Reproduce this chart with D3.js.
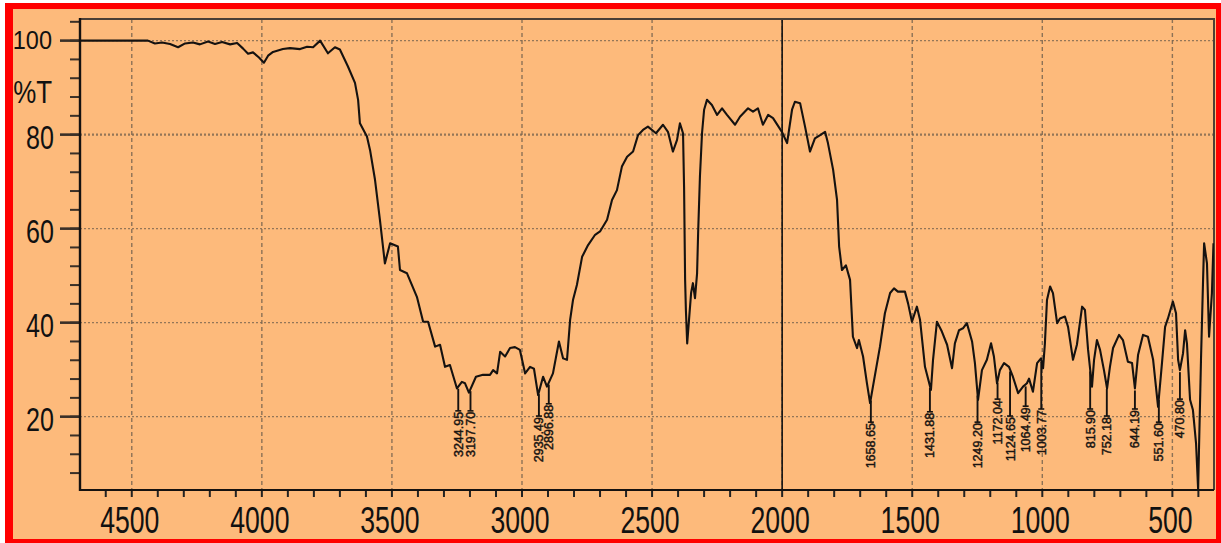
<!DOCTYPE html>
<html><head><meta charset="utf-8">
<script src="https://cdn.jsdelivr.net/npm/d3@7"></script>
<style>html,body{margin:0;padding:0;background:#fff;}svg{display:block;}</style>
</head><body>
<svg id="c" width="1221" height="543"></svg>
<script>
// ---- data ----
const spectrum = [
 [4699,100],[4438,100],[4411,99.4],[4384,99.6],[4353,99.3],[4322,98.6],[4295,99.4],[4265,99.6],[4238,99.2],[4207,99.8],
 [4180,99.3],[4153,99.7],[4122,99.2],[4095,99.5],[4072,98.3],[4053,97.2],[4034,97.5],[4011,96.4],[3992,95.3],[3976,96.8],
 [3957,97.6],[3938,97.9],[3919,98.2],[3892,98.4],[3853,98.2],[3826,98.7],[3803,98.6],[3776,100],[3746,97.3],[3719,98.6],
 [3700,98.1],[3669,94.5],[3642,91],[3630,87.4],[3623,82.4],[3596,79.6],[3584,76.7],[3565,70.4],[3546,61.8],[3527,52.6],
 [3507,56.9],[3477,56.2],[3469,51.2],[3442,50.5],[3404,45.5],[3380,40.2],[3361,40.2],[3334,34.9],[3315,35.3],[3296,30.6],
 [3277,31],[3250,26],[3231,27.4],[3219,27.1],[3204,25.1],[3177,28.5],[3150,28.9],[3123,28.9],[3111,29.9],[3096,29.2],
 [3084,33.8],[3065,32.8],[3046,34.6],[3027,34.8],[3008,34.2],[2988,29.2],[2969,30.6],[2954,30.2],[2938,24.6],[2919,28.5],
 [2904,26.4],[2881,29.2],[2858,36],[2842,32.4],[2827,32.1],[2815,40.6],[2804,44.8],[2789,48],[2769,54],[2746,56.5],
 [2719,58.7],[2700,59.4],[2673,61.9],[2654,66.1],[2635,68.2],[2616,73.2],[2596,75.3],[2573,76.4],[2554,79.9],[2535,81],
 [2516,81.7],[2485,80.3],[2458,82.1],[2439,80.6],[2420,76.4],[2404,78.9],[2393,82.4],[2381,80.3],[2377,68.9],[2373,49.1],
 [2370,42.7],[2365,35.6],[2358,40.6],[2350,46.3],[2343,48.4],[2335,45.2],[2327,50.5],[2323,59],[2316,71.1],[2308,80.3],
 [2300,85.3],[2289,87.4],[2270,86.3],[2250,84.2],[2231,85.6],[2212,84.2],[2181,82.1],[2162,83.8],[2131,85.6],[2112,84.9],
 [2093,85.6],[2074,82.1],[2054,84.2],[2035,83.5],[2001,80.6],[1981,78.2],[1962,85.3],[1951,87],[1931,86.7],[1912,81.7],
 [1893,76.4],[1874,79.2],[1854,79.9],[1835,80.6],[1824,78.2],[1804,72.5],[1789,66.1],[1781,56.2],[1770,51.2],[1755,52.2],
 [1739,49.1],[1728,37],[1712,34.6],[1705,36.3],[1689,32.8],[1674,27.1],[1662,22.9],[1651,26.4],[1624,34.9],[1605,42],
 [1585,46.3],[1570,47.3],[1555,46.6],[1528,46.6],[1516,44.1],[1501,40.2],[1482,43.4],[1470,40.6],[1451,30.6],[1428,25.7],
 [1420,32.1],[1405,40.2],[1386,38.1],[1366,35.3],[1347,30.3],[1336,35.6],[1320,38.4],[1305,38.8],[1290,39.9],[1270,36],
 [1259,31.4],[1247,23.6],[1232,29.9],[1213,32.1],[1197,35.6],[1186,32.8],[1174,27.1],[1163,29.9],[1147,31.4],[1128,30.6],
 [1113,28.5],[1093,25],[1074,26.4],[1059,27.1],[1051,28.1],[1036,25.3],[1020,31.4],[1005,32.4],[997,30.3],[990,35.6],
 [982,44.8],[970,47.7],[959,46.3],[943,39.9],[932,40.9],[913,41.3],[901,39.1],[882,32.1],[867,35.3],[847,43.4],
 [836,42.7],[824,34.2],[809,26.4],[801,32.1],[790,36.3],[778,34.2],[763,29.9],[751,26],[740,30.6],[728,34.6],
 [705,37.4],[690,36.3],[671,31.7],[655,31.4],[644,26],[632,33.1],[613,37.4],[594,37],[574,32.1],[555,22.1],
 [540,31.4],[528,39.1],[517,40.9],[498,44.5],[486,42],[478,32.1],[471,29.9],[459,33.5],[451,38.4],[444,35.6],
 [432,23.6],[421,21.4],[409,14.3],[401,4.5],[398,12.2],[390,32.1],[382,49.1],[378,56.9],[367,52.6],[359,37],
 [348,46.3],[342,56.9]
];
const peakWn = [3245,3198,2935,2897,1659,1432,1249,1172,1124,1064,1004,816,752,644,552,471];
const peakLabels = ["3244.95","3197.70","2935.49","2896.88","1658.65","1431.88","1249.20","1172.04","1124.65","1064.49","1003.77","815.90","752.18","644.19","551.60","470.80"];
const peakT = [25.7,25.7,24.6,27.2,23.3,25.5,23.3,28.2,24.6,26.7,26.1,26.1,24.6,26.1,23.3,28.2];
const xMajor = [4500,4000,3500,3000,2500,2000,1500,1000,500];
const xMinor = [4600,4500,4400,4300,4200,4100,4000,3900,3800,3700,3600,3500,3400,3300,3200,3100,3000,2900,2800,2700,2600,2500,2400,2300,2200,2100,2000,1900,1800,1700,1600,1500,1400,1300,1200,1100,1000,900,800,700,600,500,400];
const yMajor = [20,40,60,80,100];
const yMinor = [8,12,16,20,24,28,32,36,40,44,48,52,56,60,64,68,72,76,80,84,88,92,96,100,104];
const markerWn = 2000;
const yTitle = "%T";

// ---- drawing ----
const svg = d3.select("#c");
const L = 80, R = 1214, T = 19, B = 490;
const x = d3.scaleLinear().domain([4699, 340]).range([L, R]);
const y = d3.scaleLinear().domain([4.4, 104.6]).range([B, T]);
const FONT = "'Liberation Sans', Arial, sans-serif";
const GRID = "#7a6650";

svg.append("rect").attr("x",5).attr("y",3).attr("width",1216).attr("height",540).attr("fill","#ff0000");
svg.append("rect").attr("x",13).attr("y",9).attr("width",1203).attr("height",530).attr("fill","#fdba7b");

// grid
const g = svg.append("g");
g.selectAll("line.v").data(xMajor).join("line")
  .attr("x1",d=>x(d)).attr("x2",d=>x(d)).attr("y1",T).attr("y2",B)
  .attr("stroke",GRID).attr("stroke-width",1.4).attr("stroke-dasharray","4,3").attr("opacity",0.85);
g.selectAll("line.h").data(yMajor).join("line")
  .attr("x1",L).attr("x2",R).attr("y1",d=>y(d)).attr("y2",d=>y(d))
  .attr("stroke",GRID).attr("stroke-width",d=>d===80?2.2:1.4).attr("stroke-dasharray","2,2").attr("opacity",0.8);

// 2000 marker line
svg.append("line").attr("x1",x(markerWn)).attr("x2",x(markerWn)).attr("y1",T).attr("y2",B)
  .attr("stroke","#111").attr("stroke-width",1.6);

// frame top/right
svg.append("path").attr("d",`M${L},${T}H${R}V${B}`).attr("fill","none").attr("stroke","#4a3f35").attr("stroke-width",2);

// spectrum
svg.append("clipPath").attr("id","clip").append("rect").attr("x",L).attr("y",T).attr("width",R-L).attr("height",B-T);
const line = d3.line().x(d=>x(d[0])).y(d=>y(d[1]));
svg.append("path").datum(spectrum).attr("d",line).attr("fill","none")
  .attr("stroke","#151210").attr("stroke-width",2.1).attr("stroke-linejoin","round")
  .attr("clip-path","url(#clip)");

// axes
const ax = svg.append("g");
ax.selectAll("line.xt").data(xMinor).join("line")
  .attr("x1",d=>x(d)).attr("x2",d=>x(d)).attr("y1",B).attr("y2",B+7)
  .attr("stroke","#222").attr("stroke-width",2);
ax.selectAll("line.ytm").data(yMinor).join("line")
  .attr("x1",L-10).attr("x2",L).attr("y1",d=>y(d)).attr("y2",d=>y(d))
  .attr("stroke","#3a3028").attr("stroke-width",2);
ax.selectAll("line.ytM").data(yMajor).join("line")
  .attr("x1",L-20).attr("x2",L).attr("y1",d=>y(d)).attr("y2",d=>y(d))
  .attr("stroke","#3a3028").attr("stroke-width",2.6);
ax.append("line").attr("x1",L).attr("x2",L).attr("y1",T-1).attr("y2",B+1).attr("stroke","#151210").attr("stroke-width",2.4);
ax.append("line").attr("x1",L-1).attr("x2",R).attr("y1",B).attr("y2",B).attr("stroke","#151210").attr("stroke-width",2.2);

// tick labels
ax.selectAll("text.xl").data(xMajor).join("text")
  .attr("transform",d=>`translate(${x(d)-2},533) scale(0.72,1)`)
  .attr("text-anchor","middle").attr("font-family",FONT).attr("font-size",37).attr("fill","#111")
  .text(d=>d);
ax.selectAll("text.yl").data(yMajor).join("text")
  .attr("transform",d=> d===100 ? `translate(52,${y(d)+8}) scale(0.94,1)` : `translate(54,${y(d)+14}) scale(0.76,1)`)
  .attr("text-anchor","end").attr("font-family",FONT).attr("font-size",d=>d===100?25:33).attr("fill","#111")
  .text(d=>d);
svg.append("text").attr("transform","translate(52,103) scale(0.81,1)")
  .attr("text-anchor","end").attr("font-family",FONT).attr("font-size",32).attr("fill","#111").text(yTitle);

// peak markers
const bis = d3.bisector(d=>-d[0]).left;
function curveT(w){
  const i = Math.max(1, Math.min(spectrum.length-1, bis(spectrum, -w)));
  const a = spectrum[i-1], b = spectrum[i];
  const t = (a[0]-w)/(a[0]-b[0]);
  return a[1] + t*(b[1]-a[1]);
}
const pk = svg.append("g");
peakWn.forEach((w,i)=>{
  const px = x(w);
  const y0 = y(curveT(w)) + 2;
  const ys = y(peakT[i]) + 22;
  pk.append("line").attr("x1",px).attr("x2",px).attr("y1",y0).attr("y2",ys-1)
    .attr("stroke","#151210").attr("stroke-width",1.9);
  pk.append("line").attr("x1",px-3).attr("x2",px+3).attr("y1",ys-1).attr("y2",ys-1)
    .attr("stroke","#151210").attr("stroke-width",1.6);
  pk.append("text").attr("transform",`translate(${px},${ys}) rotate(-90)`)
    .attr("text-anchor","end").attr("dy","0.36em")
    .attr("font-family",FONT).attr("font-size",12.5).attr("fill","#1a1512")
    .attr("stroke","#1a1512").attr("stroke-width",0.45)
    .text(peakLabels[i]);
});
</script>
</body></html>
